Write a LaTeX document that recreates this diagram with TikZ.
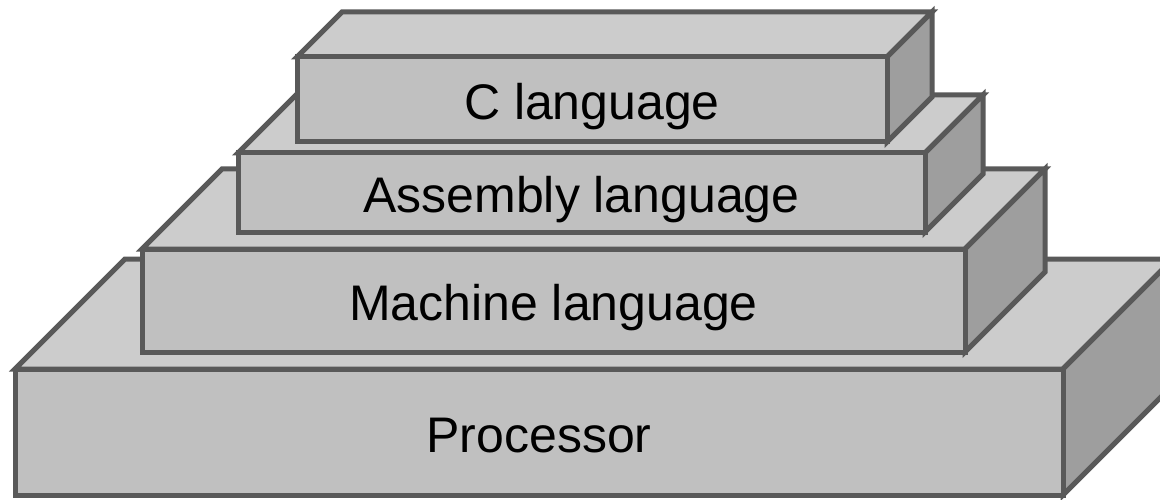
\documentclass[tikz,border=0pt]{standalone}
\usepackage{fontspec}
\setmainfont{Liberation Sans}
\definecolor{frontc}{HTML}{C0C0C0}
\definecolor{topc}{HTML}{CCCCCC}
\definecolor{sidec}{HTML}{9E9E9E}
\definecolor{edgec}{HTML}{595959}
\tikzset{
  face/.style={draw=edgec, line width=5pt, line join=miter},
  lbl/.style={font=\fontsize{50}{60}\selectfont, text=black, inner sep=0pt, anchor=base},
}
% #1 x1, #2 y1 (top), #3 x2, #4 y2 (bottom), #5 depth, #6 name, #7 text, #8 baseline y
\newcommand{\layerbox}[8]{%
  \path[face, fill=topc] (#1,#2) -- ++(#5,-#5) -- (#3+#5,#2-#5) -- (#3,#2) -- cycle;
  \path[face, fill=sidec] (#3,#2) -- (#3+#5,#2-#5) -- (#3+#5,#4-#5) -- (#3,#4) -- cycle;
  \path[face, fill=frontc] (#1,#2) rectangle (#3,#4);
  \node[lbl] (#6) at ({(#1+#3)/2},#8) {#7};
}
\begin{document}
\begin{tikzpicture}[x=1pt,y=-1pt]
\useasboundingbox (0,0) rectangle (1160,500);
\clip (0,0) rectangle (1160,500);
\layerbox{15}{369}{1063}{495}{110}{proc}{Processor}{452}
\layerbox{142}{249}{965}{352}{80}{mach}{Machine language}{320}
\layerbox{238}{153}{925}{232}{58}{asm}{Assembly language}{212}
\layerbox{297}{57}{887}{142}{45}{clang}{C language}{120}
\end{tikzpicture}
\end{document}
